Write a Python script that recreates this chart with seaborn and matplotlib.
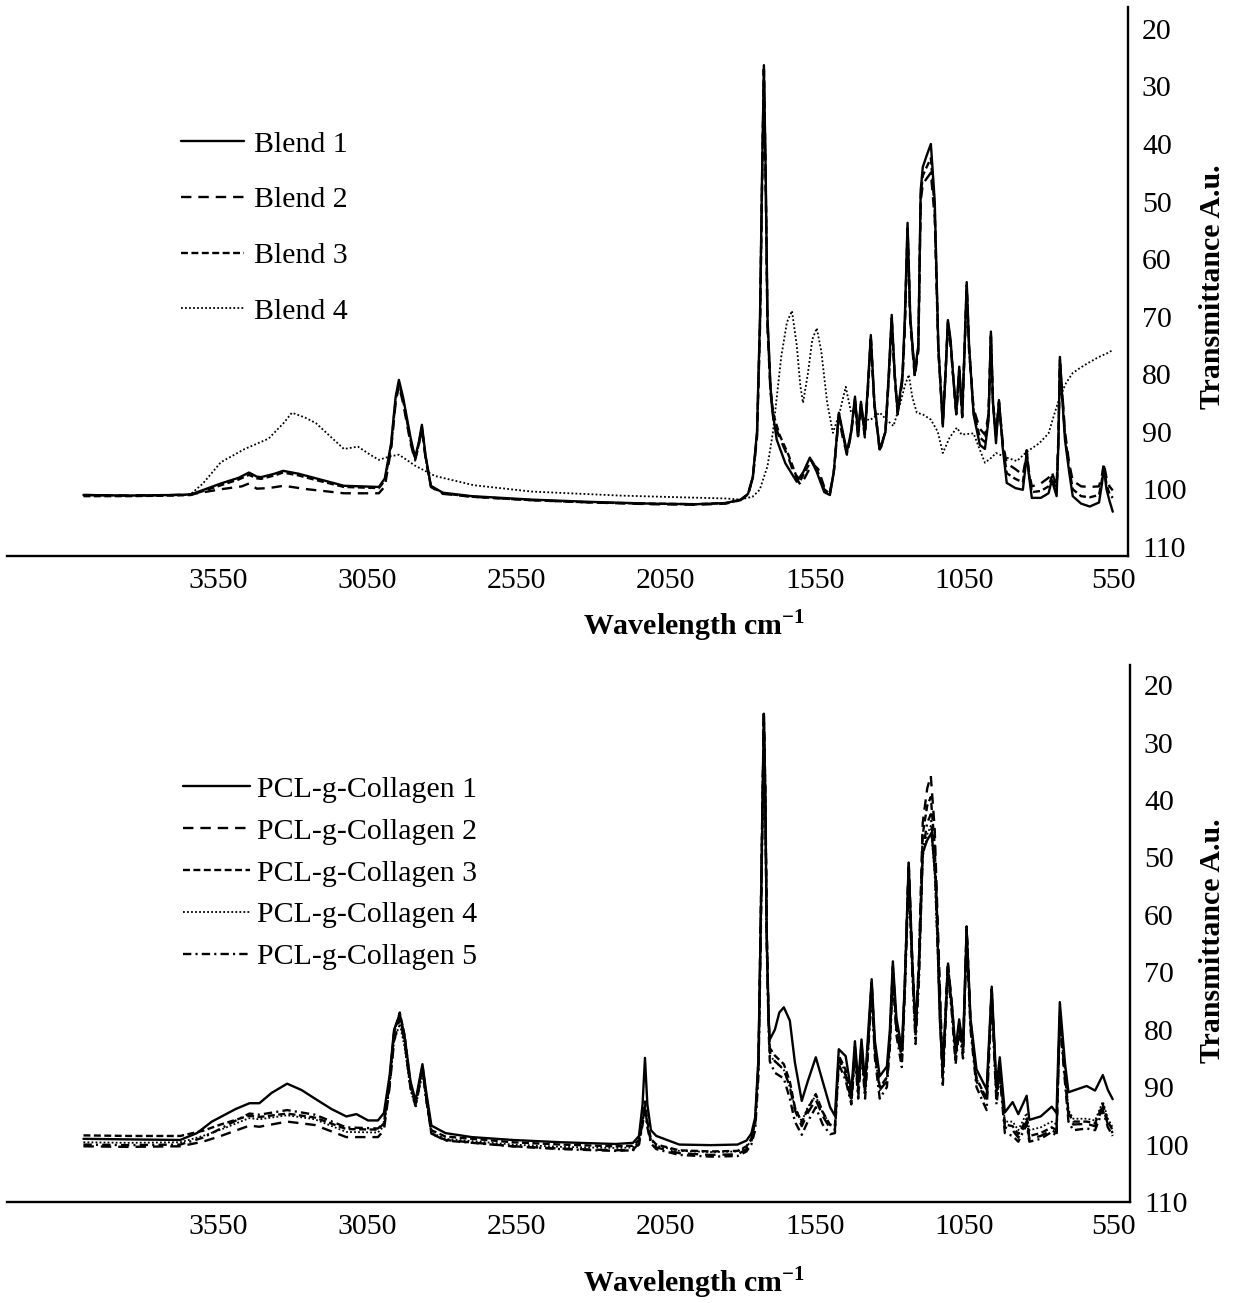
import matplotlib
matplotlib.use("Agg")
import matplotlib.pyplot as plt
import seaborn as sns

# ---------------- data (wavenumber cm-1, transmittance) ----------------
BLEND1 = [(4000,101.0),(3850,101.1),(3700,101.0),(3640,100.9),(3540,99.0),(3480,98.0),(3446,97.1),(3420,97.8),
          (3406,97.9),(3360,97.3),(3332,96.8),(3280,97.3),(3222,98.1),(3128,99.4),(3011,99.6),(2991,98.1),
          (2970,92),(2955,84),(2944,81.0),(2930,84),(2905,91),(2890,94.5),(2878,92),(2867,88.8),(2855,94),
          (2837,99.4),(2797,100.6),(2700,101.2),(2500,101.8),(2300,102.2),(2100,102.5),(1950,102.6),(1850,102.4),
          (1800,101.8),(1775,100.8),(1759,97.8),(1745,90),(1735,70),(1728,45),(1722,26.3),(1716,45),(1710,70),
          (1700,82),(1695,85.7),(1679,91.4),(1650,95.5),(1612,98.7),(1590,97),(1568,94.5),(1545,97),(1520,100.5),
          (1501,101.0),(1488,97),(1471,86.7),(1458,90),(1444,93.5),(1430,90),(1417,83.9),(1407,90.5),(1397,84.8),
          (1384,90.2),(1374,82),(1364,73.2),(1352,85),(1334,93.1),(1315,90),(1304,80),(1294,69.7),(1284,80),
          (1274,86.7),(1258,80),(1250,70),(1241,53.7),(1232,70),(1217,79.8),(1205,75),(1197,48),(1190,44.0),
          (1177,42),(1163,40.0),(1150,50),(1138,75),(1123,89.1),(1114,80),(1106,70.6),(1097,74),(1089,79.8),
          (1078,86.7),(1068,78.7),(1058,87),(1050,75),(1043,64.0),(1035,75),(1020,87),(999,92.3),(982,93),
          (970,88),(962,72.6),(955,85),(945,92.0),(935,84.5),(922,93),(909,98.9),(880,99.8),(855,100.1),
          (846,96),(842,93.7),(836,97),(825,101.5),(795,101.5),(769,100.7),(758,98.4),(742,101.2),(736,92),
          (731,77.0),(722,85),(714,91.4),(700,97),(688,101.2),(660,102.5),(631,103.0),(600,102.3),(590,99),
          (584,96.1),(575,100),(565,102),(554,103.9)]

BLEND2 = [(4000,101.0),(3850,101.1),(3700,101.0),(3640,100.9),(3540,100.0),(3470,99.5),(3446,99.0),(3420,99.9),
          (3380,99.8),(3330,99.4),(3250,100.0),(3128,100.7),(3011,100.7),(2991,99.5),(2970,93),(2955,85),
          (2944,82),(2930,85),(2905,92),(2890,95),(2878,92.5),(2867,89.5),(2855,94.5),(2837,99.6),(2797,100.8),
          (2700,101.3),(2500,101.9),(2300,102.3),(2100,102.6),(1950,102.7),(1850,102.5),(1800,101.9),
          (1775,100.9),(1759,98),(1745,91),(1735,72),(1728,47),(1722,27),(1716,47),(1710,72),(1700,83),
          (1690,88),(1670,91),(1640,94.5),(1620,97.5),(1600,99.2),(1585,98),(1560,95.5),(1540,96.5),
          (1520,99.6),(1501,100.5),(1488,97),(1471,87.5),(1458,91),(1444,94),(1430,90.5),(1417,84.5),
          (1407,91),(1397,85.5),(1384,91),(1374,83),(1364,74),(1352,85.5),(1334,93.5),(1315,90),(1304,81),
          (1294,71),(1284,80.5),(1274,87),(1258,81),(1250,72),(1241,55),(1232,71),(1217,80.5),(1205,76),
          (1197,50),(1190,47),(1177,46),(1163,45),(1150,53),(1138,76),(1123,88),(1114,80),(1106,71.5),
          (1097,75),(1089,80),(1078,87),(1068,80),(1058,87.5),(1050,76),(1043,65),(1035,76),(1020,86),
          (999,89.5),(982,90.5),(970,87),(962,73.5),(955,85),(945,90),(935,85),(922,92),(909,95.5),(880,96.5),
          (855,97.5),(846,95),(842,93.2),(836,96.5),(825,99.5),(795,99),(769,98),(758,97),(742,99.5),(736,91),
          (731,78),(722,84),(714,90),(700,95.5),(688,98.5),(660,99.5),(631,99.6),(600,99.5),(590,97.5),
          (584,95.5),(575,98),(565,99.5),(554,100.2)]

BLEND3 = [(4000,101.2),(3850,101.2),(3700,101.1),(3640,101.0),(3540,99.3),(3480,98.3),(3446,97.5),(3420,98.1),
          (3406,98.2),(3360,97.6),(3332,97.1),(3280,97.6),(3222,98.4),(3128,99.6),(3011,99.8),(2991,98.5),
          (2970,92.5),(2955,84.5),(2944,81.5),(2930,84.5),(2905,91.5),(2890,94.8),(2878,92.3),(2867,89.2),
          (2855,94.3),(2837,99.5),(2797,100.7),(2700,101.3),(2500,101.9),(2300,102.3),(2100,102.5),
          (1950,102.6),(1850,102.4),(1800,101.9),(1775,100.9),(1759,98),(1745,90.5),(1735,71),(1728,46),
          (1722,26.8),(1716,46),(1710,71),(1700,82.5),(1690,87),(1670,90.5),(1640,94),(1615,97.5),(1600,98.5),
          (1580,96.5),(1562,95),(1545,96.5),(1520,100),(1501,100.8),(1488,97),(1471,87),(1458,90.5),
          (1444,93.8),(1430,90.2),(1417,84.2),(1407,90.8),(1397,85.2),(1384,90.5),(1374,82.5),(1364,73.6),
          (1352,85.2),(1334,93.3),(1315,90),(1304,80.5),(1294,70.3),(1284,80.2),(1274,86.9),(1258,80.5),
          (1250,71),(1241,54.3),(1232,70.5),(1217,80.1),(1205,75.5),(1197,49),(1190,45.5),(1177,44),
          (1163,42.5),(1150,51.5),(1138,75.5),(1123,88.6),(1114,80),(1106,71),(1097,74.5),(1089,80),
          (1078,86.8),(1068,79.3),(1058,87.2),(1050,75.5),(1043,64.5),(1035,75.5),(1020,86.5),(999,91),
          (982,91.8),(970,87.5),(962,73),(955,85),(945,91),(935,84.8),(922,92.5),(909,97.2),(880,98.2),
          (855,98.8),(846,95.5),(842,93.5),(836,96.8),(825,100.5),(795,100.3),(769,99.5),(758,97.8),
          (742,100.3),(736,91.5),(731,77.5),(722,84.5),(714,90.7),(700,96.3),(688,100),(660,101.2),
          (631,101.4),(600,101),(590,98.3),(584,95.8),(575,99.2),(565,100.8),(554,101.5)]

BLEND4 = [(4000,101.0),(3850,101.1),(3700,101.0),(3644,101.0),(3600,99),(3540,95.3),(3460,93),(3380,91.2),
          (3330,88.5),(3302,86.7),(3260,87.5),(3222,88.5),(3170,91),(3128,93.0),(3081,92.6),(3040,94),
          (3011,94.9),(2975,94.3),(2944,94.0),(2915,95),(2890,95.9),(2823,97.7),(2693,99.3),(2500,100.4),
          (2204,101.1),(2000,101.4),(1850,101.6),(1802,101.8),(1760,101.3),(1736,100.1),(1710,96),(1692,90.2),
          (1664,77.0),(1645,71),(1628,69.0),(1612,75),(1600,82),(1591,85.0),(1575,80),(1560,74),(1545,72.0),
          (1530,76),(1510,85),(1491,90.2),(1470,87),(1448,82.2),(1430,86.7),(1400,87.5),(1367,88.0),
          (1334,86.7),(1310,88),(1288,89.0),(1265,85),(1250,82),(1237,80.1),(1225,84),(1210,86.7),(1190,87),
          (1163,87.9),(1140,90),(1123,93.7),(1100,91),(1076,89.3),(1060,90.5),(1043,90.4),(1020,90.3),
          (1000,93),(982,95.4),(960,94.5),(945,93.7),(910,94.5),(875,95.1),(842,93.5),(800,92),(769,90.3),
          (750,87),(731,83.9),(710,81.5),(688,79.8),(660,78.8),(631,77.9),(600,77),(570,76.3),(554,75.8)]

PCL1 = [(4000,99.0),(3850,99.1),(3676,99.2),(3620,98),(3570,96.0),(3490,93.8),(3444,92.8),(3411,92.8),
        (3370,91),(3318,89.4),(3270,90.5),(3225,92.0),(3170,93.8),(3120,95.1),(3086,94.7),(3047,95.8),
        (3014,95.8),(2994,94.5),(2975,88),(2960,80),(2941,77.3),(2925,81),(2905,89),(2888,92.4),(2876,89),
        (2865,86.0),(2852,91),(2835,96.7),(2788,98.0),(2700,98.7),(2563,99.2),(2400,99.6),(2219,99.9),
        (2160,99.7),(2140,98.5),(2128,93),(2120,84.9),(2112,93),(2100,97.5),(2082,98.5),(2005,100.0),
        (1900,100.1),(1810,100.0),(1780,99.3),(1764,98.1),(1751,95.3),(1740,85),(1732,60),(1726,40),
        (1722,25.0),(1717,40),(1712,65),(1706,78),(1702,81.7),(1685,80.0),(1670,77),(1655,76.1),(1635,78.4),
        (1618,85.7),(1595,92.4),(1575,89),(1548,84.8),(1525,89),(1500,93.5),(1484,95.0),(1471,83.4),
        (1448,84.6),(1429,90.9),(1417,82.0),(1406,89.3),(1395,81.7),(1383,89.3),(1372,80),(1361,71.2),
        (1350,82),(1334,88.1),(1310,86.4),(1300,80),(1290,68.1),(1278,78),(1260,83.4),(1250,72),(1237,50.9),
        (1225,68),(1214,79.4),(1203,70),(1190,49.2),(1175,47),(1160,45.7),(1145,55),(1133,78),(1123,87.4),
        (1106,69.5),(1092,75.9),(1080,83.4),(1068,78.2),(1055,82.8),(1043,62.6),(1030,78),(1010,86.9),
        (976,90.4),(959,72.5),(943,89.9),(932,84.8),(915,94.4),(889,92.6),(870,94.7),(842,91.5),(833,95.7),
        (795,95.1),(758,93.4),(742,94.5),(731,75.2),(714,85.7),(702,90.9),(686,90.6),(641,89.8),(613,90.6),
        (587,87.9),(570,90.5),(554,92.1)]

PCL2 = [(4000,100.3),(3850,100.4),(3676,100.3),(3600,99.5),(3540,98.5),(3460,97),(3444,96.7),(3411,96.9),
        (3318,96.0),(3225,96.6),(3120,98.7),(3014,98.7),(2994,97.5),(2975,90),(2960,82),(2941,78.0),(2925,82),
        (2905,90),(2888,93),(2876,90),(2865,86.7),(2852,92),(2835,98.1),(2788,99.2),(2563,100.3),(2400,100.7),
        (2219,101.0),(2160,100.9),(2140,99.8),(2128,96),(2120,93.5),(2112,96.5),(2100,99.5),(2082,100.5),
        (2005,101.5),(1900,101.8),(1810,101.7),(1780,100.8),(1764,99.5),(1751,96.5),(1740,86),(1732,60),
        (1726,38),(1722,24.5),(1717,38),(1712,63),(1706,78),(1702,84.0),(1685,85.5),(1655,86.9),(1635,90),
        (1618,94),(1595,96.8),(1575,94.5),(1548,92.2),(1525,95),(1500,97.2),(1484,97.4),(1471,85),(1448,88),
        (1429,92.5),(1417,83.5),(1406,91),(1395,83),(1383,91),(1372,82),(1361,72),(1350,84),(1334,90.5),
        (1310,89),(1300,82),(1290,69.5),(1278,80),(1260,85.5),(1250,72),(1237,50.7),(1225,68),(1214,81),
        (1203,68),(1190,44),(1175,38),(1163,35.8),(1150,45),(1133,72),(1123,88),(1106,68),(1092,76),(1080,85),
        (1068,79),(1055,84),(1043,62.0),(1030,79),(1010,89),(976,92.5),(959,73),(943,92),(932,87),(915,97),
        (889,97.5),(870,98.8),(842,96),(833,99),(795,98.5),(758,97.5),(742,98),(731,78),(714,88),(702,95),
        (686,96.5),(641,96.4),(613,96.8),(587,93.5),(570,96.5),(554,98.0)]

PCL3 = [(4000,98.4),(3850,98.5),(3676,98.5),(3600,97.6),(3540,96.5),(3460,95.2),(3444,95.0),(3411,95.2),
        (3318,94.6),(3225,95.3),(3120,97.3),(3014,97.4),(2994,96.3),(2975,89),(2960,80.5),(2941,77.0),
        (2925,81),(2905,89.5),(2888,92.8),(2876,89.5),(2865,86.3),(2852,91.5),(2835,97.5),(2788,98.6),
        (2563,99.6),(2400,100),(2219,100.3),(2160,100.2),(2140,99.2),(2128,95.5),(2120,92.5),(2112,96),
        (2100,99),(2082,100),(2005,101),(1900,101.2),(1810,101.1),(1780,100.3),(1764,99),(1751,96),
        (1740,85.5),(1732,59),(1726,38.5),(1722,25.0),(1717,38.5),(1712,63.5),(1706,78),(1702,83.2),
        (1685,84.5),(1655,86),(1635,89),(1618,93.5),(1595,96.2),(1575,93.8),(1548,91.2),(1525,94.3),
        (1500,96.6),(1484,96.8),(1471,84.5),(1448,87),(1429,92),(1417,83),(1406,90.5),(1395,82.5),
        (1383,90.5),(1372,81.5),(1361,71.8),(1350,83.5),(1334,90),(1310,88.3),(1300,81.5),(1290,69),
        (1278,79.5),(1260,85),(1250,72),(1237,51.5),(1225,68.5),(1214,80.5),(1203,69),(1190,46),(1175,41),
        (1163,39.5),(1150,48),(1133,73.5),(1123,88),(1106,68.5),(1092,76),(1080,84.5),(1068,78.8),(1055,83.5),
        (1043,62.5),(1030,78.5),(1010,88.5),(976,92),(959,73),(943,91.5),(932,86.5),(915,96.5),(889,96.8),
        (870,98.2),(842,95.5),(833,98.5),(795,98),(758,97),(742,97.5),(731,77.5),(714,87.5),(702,94.5),
        (686,96),(641,96),(613,96.3),(587,93),(570,96),(554,97.5)]

PCL4 = [(4000,99.6),(3850,99.7),(3676,99.6),(3600,98.5),(3540,97.4),(3460,95.7),(3444,95.4),(3411,95.6),
        (3318,94.9),(3225,95.6),(3120,97.8),(3014,97.9),(2994,96.8),(2975,90),(2960,82),(2941,79.0),(2925,83),
        (2905,90.5),(2888,93.5),(2876,90.5),(2865,87.5),(2852,92.5),(2835,97.9),(2788,99),(2563,100),
        (2400,100.4),(2219,100.6),(2160,100.5),(2140,99.5),(2128,96),(2120,93.0),(2112,96.5),(2100,99.2),
        (2082,100.2),(2005,101.1),(1900,101.3),(1810,101.2),(1780,100.5),(1764,99.2),(1751,96.3),(1740,86),
        (1732,62),(1726,42),(1722,27.5),(1717,42),(1712,66),(1706,79),(1702,84.5),(1685,85.5),(1655,87),
        (1635,90),(1618,93.5),(1595,96),(1575,93.5),(1548,91.5),(1525,94.5),(1500,96.5),(1484,96.5),
        (1471,85),(1448,87.5),(1429,92),(1417,84),(1406,90.5),(1395,83.5),(1383,90.5),(1372,82.5),(1361,73),
        (1350,84.5),(1334,90.2),(1310,88.5),(1300,82),(1290,70.5),(1278,80),(1260,85),(1250,73.5),(1237,54),
        (1225,70),(1214,81),(1203,71),(1190,50),(1175,46),(1163,44.5),(1150,53),(1133,76),(1123,88.5),
        (1106,70.5),(1092,77),(1080,85),(1068,79.5),(1055,84),(1043,64),(1030,79),(1010,88.5),(976,92),
        (959,74),(943,91.5),(932,86.5),(915,96),(889,96),(870,97.5),(842,94.5),(833,97.5),(795,97),(758,96),
        (742,96.5),(731,77),(714,87),(702,94),(686,95.5),(641,95.5),(613,95.8),(587,92.5),(570,95.5),(554,97)]

PCL5 = [(4000,100.0),(3850,100.1),(3676,100.0),(3600,98.8),(3540,97.2),(3460,95.0),(3444,94.6),(3411,94.8),
        (3318,94.0),(3225,94.8),(3120,97.0),(3014,97.2),(2994,96.2),(2975,89),(2960,80.5),(2941,77.5),
        (2925,82),(2905,90),(2888,93.3),(2876,90),(2865,87),(2852,92.3),(2835,98.1),(2788,99.3),(2563,100.3),
        (2400,100.8),(2219,101.1),(2160,101),(2140,100),(2128,96.5),(2120,93.8),(2112,97),(2100,99.8),
        (2082,100.8),(2005,101.8),(1900,102.1),(1810,102.0),(1780,101.2),(1764,100),(1751,97.5),(1740,88),
        (1732,63),(1726,41),(1722,26.5),(1717,41),(1712,66),(1706,80),(1702,85.5),(1685,87.5),(1655,88.5),
        (1635,92),(1618,96),(1595,98.3),(1575,96),(1548,93.5),(1525,96.5),(1500,98.2),(1484,98),(1471,86),
        (1448,88.8),(1429,93),(1417,84.5),(1406,92),(1395,84),(1383,92),(1372,83),(1361,73.5),(1350,85),
        (1334,92),(1310,90),(1300,83),(1290,71),(1278,81),(1260,86.5),(1250,74),(1237,53),(1225,70),
        (1214,82.5),(1203,72),(1190,49),(1175,44),(1163,42.5),(1150,51),(1133,76),(1123,90),(1106,70),
        (1092,77.5),(1080,86),(1068,80),(1055,85),(1043,63.5),(1030,80),(1010,90),(976,94),(959,75),(943,93),
        (932,88),(915,98),(889,98.5),(870,99.5),(842,96.5),(833,99.5),(795,99),(758,97.8),(742,98.5),
        (731,78.5),(714,89),(702,96),(686,97.5),(641,97.2),(613,97.5),(587,94),(570,97),(554,98.5)]

BLEND_LABELS = ["Blend 1", "Blend 2", "Blend 3", "Blend 4"]
PCL_LABELS = ["PCL-g-Collagen 1", "PCL-g-Collagen 2", "PCL-g-Collagen 3",
              "PCL-g-Collagen 4", "PCL-g-Collagen 5"]
X_TICKS = [3550, 3050, 2550, 2050, 1550, 1050, 550]
Y_TICKS = [20, 30, 40, 50, 60, 70, 80, 90, 100, 110]

# ---------------- style ----------------
sns.set_style("white")
plt.rcParams["font.family"] = ["Liberation Serif", "DejaVu Serif"]
plt.rcParams["mathtext.fontset"] = "custom"
plt.rcParams["mathtext.rm"] = "Liberation Serif"
plt.rcParams["mathtext.bf"] = "Liberation Serif:bold"
plt.rcParams["lines.scale_dashes"] = False
plt.rcParams["text.color"] = "black"
plt.rcParams["legend.labelcolor"] = "black"

STYLES = {
    "solid": dict(linestyle="-", lw=1.7),
    "dash": dict(linestyle=(0, (7.5, 5.0)), lw=1.7),
    "sdash": dict(linestyle=(0, (5.0, 2.5)), lw=1.7),
    "dot": dict(linestyle=(0, (1.3, 1.6)), lw=1.3),
    "dashdot": dict(linestyle=(0, (6.0, 3.0, 1.5, 3.0)), lw=1.7),
}

W, H = 1233, 1303
FS = 21.5
fig = plt.figure(figsize=(W / 100, H / 100), dpi=100)
ax1 = fig.add_axes([7 / W, 1 - 556 / H, (1128 - 7) / W, (556 - 7) / H])
ax2 = fig.add_axes([7 / W, 1 - 1202 / H, (1130 - 7) / W, (1202 - 665) / H])


def draw(ax, series, labels, styles):
    for data, lab, st in zip(series, labels, styles):
        xs = [p[0] for p in data]
        ys = [p[1] for p in data]
        sns.lineplot(x=xs, y=ys, ax=ax, color="black", estimator=None, sort=False,
                     label=lab, **STYLES[st])


draw(ax1, [BLEND1, BLEND2, BLEND3, BLEND4], BLEND_LABELS, ["solid", "dash", "sdash", "dot"])
draw(ax2, [PCL1, PCL2, PCL3, PCL4, PCL5], PCL_LABELS, ["solid", "dash", "sdash", "dot", "dashdot"])

for ax, xr, yr in [(ax1, (4256, 503), (111.6, 16.2)), (ax2, (4256, 496), (109.8, 16.5))]:
    ax.set_xlim(*xr)
    ax.set_ylim(*yr)
    ax.set_xticks(X_TICKS)
    ax.set_xticklabels([str(v) for v in X_TICKS])
    ax.set_yticks(Y_TICKS)
    ax.set_yticklabels([str(v) for v in Y_TICKS])
    ax.yaxis.tick_right()
    ax.tick_params(axis="both", length=0, labelsize=FS, colors="black")
    ax.tick_params(axis="y", pad=10)
    ax.tick_params(axis="x", pad=9)
    ax.spines["left"].set_visible(False)
    ax.spines["top"].set_visible(False)
    for s in ("right", "bottom"):
        ax.spines[s].set_color("black")
        ax.spines[s].set_linewidth(1.7)
    ax.set_xlabel("")
    ax.set_ylabel("")
    ax.set_facecolor("white")

ax1.legend(loc="upper left", bbox_to_anchor=(181 / W, 1 - 131 / H), bbox_transform=fig.transFigure,
           frameon=False, fontsize=FS, handlelength=2.1, handletextpad=0.33, labelspacing=0.96,
           borderpad=0, borderaxespad=0, labelcolor="black")
ax2.legend(loc="upper left", bbox_to_anchor=(183 / W, 1 - 776 / H), bbox_transform=fig.transFigure,
           frameon=False, fontsize=FS, handlelength=2.24, handletextpad=0.23, labelspacing=0.5,
           borderpad=0, borderaxespad=0, labelcolor="black")

xlab = r"Wavelength cm$^{\mathbf{-1}}$"
fig.text(694 / W, 1 - 626 / H, xlab, ha="center", va="center", fontsize=FS, fontweight="bold", color="black")
fig.text(694 / W, 1 - 1283 / H, xlab, ha="center", va="center", fontsize=FS, fontweight="bold", color="black")
fig.text(1213 / W, 1 - 287 / H, "Transmittance A.u.", ha="center", va="center", rotation=90,
         fontsize=FS, fontweight="bold", color="black")
fig.text(1213 / W, 1 - 941 / H, "Transmittance A.u.", ha="center", va="center", rotation=90,
         fontsize=FS, fontweight="bold", color="black")

fig.savefig("out.png", dpi=100, facecolor="white")
